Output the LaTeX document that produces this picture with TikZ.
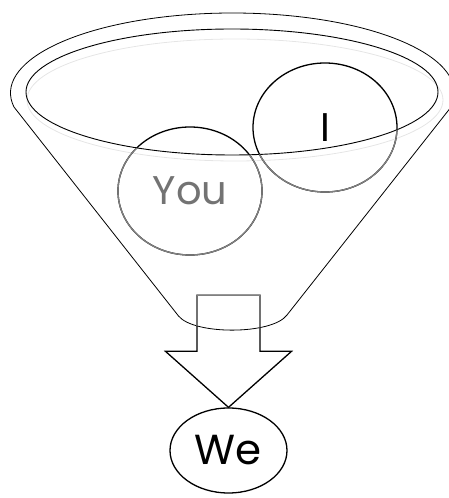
\documentclass[tikz,border=0pt]{standalone}
\usepackage{fontspec}
\setmainfont{Poppins}
\usetikzlibrary{shapes.geometric,calc}

\begin{document}
\begin{tikzpicture}[x=1pt,y=1pt,
        ring/.style={ellipse,draw,line width=1.3pt,inner sep=0pt},
        faded/.style={draw=black!50,line width=1.3pt},
        bigarrow/.style={draw,line width=1.3pt,line join=miter}]
    \useasboundingbox (0,0) rectangle (449,498);

    % funnel
    \draw[black!10,line width=0.8pt] (235,398) ellipse [x radius=208,y radius=61];
    \draw[line width=0.8pt] (13.9,391.1) arc[start angle=190,end angle=-10,x radius=222,y radius=80]
        -- (287,183) .. controls (272,163) and (194,163) .. (178.5,182) -- cycle;
    \draw[line width=0.9pt] (232,406) ellipse [x radius=206,y radius=63];

    % who goes in
    \node[ring,minimum width=144pt,minimum height=128pt,text=black!55,font=\fontsize{40}{40}\selectfont] (you) at (190,307) {You};
    \node[ring,minimum width=144pt,minimum height=129pt,font=\fontsize{40}{40}\selectfont] (me) at (325,370.5) {I};

    % what comes out
    \node[ring,minimum width=117pt,minimum height=85pt,font=\fontsize{42}{42}\selectfont] (we) at (228.5,47.5) {We};
    \draw[bigarrow] (we.north) -- ++(-63,56) -- ++(31.5,0) -- ++(0,56) -- ++(63,0) -- ++(0,-56) -- ++(31.5,0) -- cycle;

    % inside the funnel things look grey
    \begin{scope}
        \clip (13.9,391.1) arc[start angle=190,end angle=-10,x radius=222,y radius=80]
            -- (287,183) .. controls (272,163) and (194,163) .. (178.5,182) -- cycle;
        \clip (0,406) -- (26,406) arc[start angle=180,end angle=360,x radius=206,y radius=63] -- (449,406) -- (449,0) -- (0,0) -- cycle;
        \draw[faded] (you.center) ellipse [x radius=72,y radius=64];
        \draw[faded] (me.center) ellipse [x radius=72,y radius=64.5];
        \draw[faded,line join=miter] (we.north) -- ++(-63,56) -- ++(31.5,0) -- ++(0,56) -- ++(63,0) -- ++(0,-56) -- ++(31.5,0) -- cycle;
    \end{scope}
\end{tikzpicture}
\end{document}
